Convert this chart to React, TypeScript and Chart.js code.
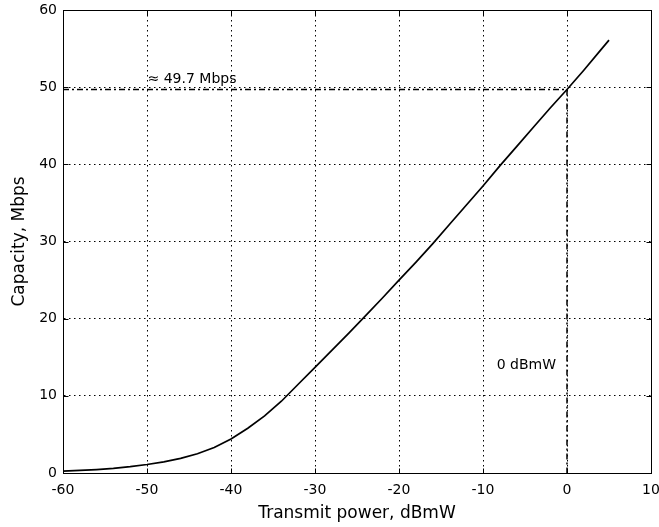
import React, { useEffect, useRef } from "react";
import { Chart, registerables } from "chart.js";

Chart.register(...registerables);

// Transmit power sweep (dBmW) and resulting channel capacity (Mbps)
const powerDbm = [
  -60, -58, -56, -54, -52, -50, -48, -46, -44, -42, -40, -38, -36, -34, -32, -30, -28,
  -26, -24, -22, -20, -18, -16, -14, -12, -10, -8, -6, -4, -2, 0, 2, 4, 5,
];
const capacityMbps = [
  0.25, 0.33, 0.45, 0.6, 0.82, 1.1, 1.45, 1.9, 2.5, 3.3, 4.4, 5.8, 7.4, 9.3, 11.5, 13.7, 15.9,
  18.1, 20.35, 22.65, 25.0, 27.3, 29.7, 32.2, 34.7, 37.2, 39.8, 42.3, 44.8, 47.3, 49.7, 52.2, 54.8, 56.1,
];

// Dash-dot guide: from the y axis across to 0 dBmW, then down to the x axis
const guidePower = [-60, 0, 0];
const guideCapacity = [49.7, 49.7, 0];

const xTicks = [-60, -50, -40, -30, -20, -10, 0, 10];
const yTicks = [0, 10, 20, 30, 40, 50, 60];

const capacityNote = "\u2248 49.7 Mbps";
const powerNote = "0 dBmW";
const xTitle = "Transmit power, dBmW";
const yTitle = "Capacity, Mbps";

const FONT = '"DejaVu Sans", "Liberation Sans", sans-serif';

const framePlugin = {
  id: "frameAndNotes",
  afterDatasetsDraw(chart: any) {
    const { ctx, chartArea: a, scales } = chart;
    const xs = scales.x;
    const ys = scales.y;
    const L = Math.round(a.left) + 0.5;
    const R = Math.round(a.right) + 0.5;
    const T = Math.round(a.top) + 0.5;
    const B = Math.round(a.bottom) + 0.5;
    ctx.save();
    ctx.setLineDash([]);
    ctx.strokeStyle = "#000";
    ctx.lineWidth = 1;
    ctx.strokeRect(L, T, R - L, B - T);

    // inward tick marks on all four sides
    const tl = 5;
    ctx.beginPath();
    for (const v of xTicks) {
      const px = Math.round(xs.getPixelForValue(v)) + 0.5;
      ctx.moveTo(px, B);
      ctx.lineTo(px, B - tl);
      ctx.moveTo(px, T);
      ctx.lineTo(px, T + tl);
    }
    for (const v of yTicks) {
      const py = Math.round(ys.getPixelForValue(v)) + 0.5;
      ctx.moveTo(L, py);
      ctx.lineTo(L + tl, py);
      ctx.moveTo(R, py);
      ctx.lineTo(R - tl, py);
    }
    ctx.stroke();

    // annotations
    ctx.fillStyle = "#000";
    ctx.font = `14px ${FONT}`;
    ctx.textBaseline = "middle";
    ctx.textAlign = "left";
    ctx.fillText(capacityNote, xs.getPixelForValue(-50) + 0.5, ys.getPixelForValue(49.7) - 10);
    ctx.textAlign = "right";
    ctx.fillText(powerNote, xs.getPixelForValue(0) - 11, ys.getPixelForValue(14));
    ctx.restore();
  },
};

export default function App() {
  const canvasRef = useRef<HTMLCanvasElement | null>(null);

  useEffect(() => {
    const canvas = canvasRef.current;
    if (!canvas) return;

    const curve = powerDbm.map((p, i) => ({ x: p, y: capacityMbps[i] }));
    const guide = guidePower.map((p, i) => ({ x: p, y: guideCapacity[i] }));

    const chart = new Chart(canvas, {
      type: "line",
      data: {
        datasets: [
          {
            data: guide,
            borderColor: "#000",
            borderWidth: 1.5,
            borderDash: [6, 3, 2, 3],
            pointRadius: 0,
            tension: 0,
            fill: false,
          },
          {
            data: curve,
            borderColor: "#000",
            borderWidth: 1.7,
            pointRadius: 0,
            tension: 0,
            fill: false,
          },
        ],
      },
      options: {
        responsive: false,
        animation: false,
        events: [],
        layout: { padding: { left: 0, top: 10, right: 8, bottom: 0 } },
        plugins: {
          legend: { display: false },
          tooltip: { enabled: false },
        },
        scales: {
          x: {
            type: "linear",
            min: -60,
            max: 10,
            afterFit(scale: any) {
              scale.height = 54;
              scale.paddingLeft = 0;
              scale.paddingRight = 0;
            },
            ticks: {
              stepSize: 10,
              color: "#000",
              padding: 9,
              maxRotation: 0,
              font: { family: FONT, size: 14 },
            },
            grid: {
              color: "#000",
              lineWidth: 1,
              drawTicks: false,
            },
            border: { display: true, color: "#000", width: 1, dash: [1.5, 3.5] },
            title: {
              display: true,
              text: xTitle,
              color: "#000",
              font: { family: FONT, size: 17 },
              padding: { top: 0, bottom: 3 },
            },
          },
          y: {
            type: "linear",
            min: 0,
            max: 60,
            afterFit(scale: any) {
              scale.width = 63;
              scale.paddingTop = 0;
              scale.paddingBottom = 0;
            },
            ticks: {
              stepSize: 10,
              color: "#000",
              padding: 6,
              font: { family: FONT, size: 14 },
            },
            grid: {
              color: "#000",
              lineWidth: 1,
              drawTicks: false,
            },
            border: { display: true, color: "#000", width: 1, dash: [1.5, 3.5] },
            title: {
              display: true,
              text: yTitle,
              color: "#000",
              font: { family: FONT, size: 17 },
              padding: { top: 9, bottom: 0 },
            },
          },
        },
      },
      plugins: [framePlugin],
    });

    return () => chart.destroy();
  }, []);

  return (
    <div style={{ position: "absolute", left: 0, top: 0, width: 659, height: 527, background: "#fff" }}>
      <canvas ref={canvasRef} width={659} height={527} style={{ display: "block" }} />
    </div>
  );
}
